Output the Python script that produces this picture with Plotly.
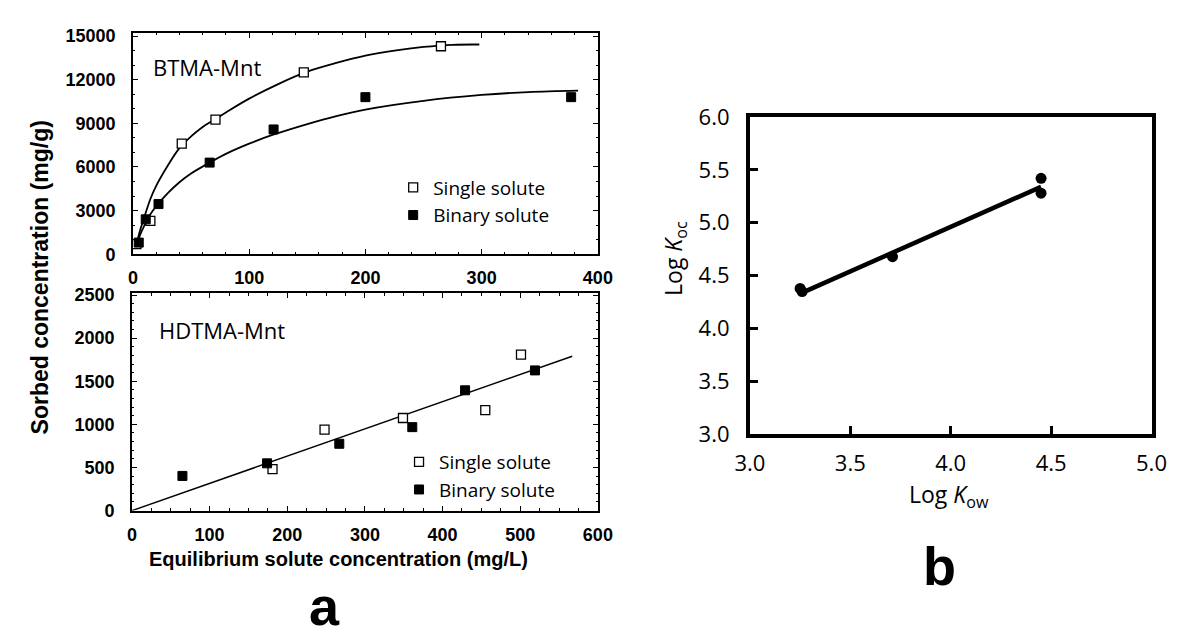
import plotly.graph_objects as go

W, H = 1186, 638

# ---------------- data: panel a (top, BTMA-Mnt) ----------------
btma_single_x = [3, 15, 42, 71, 147, 265]
btma_single_y = [700, 2300, 7600, 9250, 12500, 14300]
btma_binary_x = [5, 11, 22, 66, 121, 200, 377]
btma_binary_y = [800, 2400, 3450, 6300, 8580, 10800, 10800]
btma_single_fit_x = [3, 6, 10, 15, 20, 30, 40, 50, 60, 70, 80, 100, 125, 150, 175, 200, 225, 250, 275, 298]
btma_single_fit_y = [650, 1600, 2600, 3800, 4700, 6100, 7300, 8100, 8750, 9250, 9750, 10700, 11700, 12550,
                     13150, 13650, 14000, 14250, 14400, 14420]
btma_binary_fit_x = [3, 6, 10, 15, 20, 30, 40, 50, 66, 80, 100, 120, 150, 175, 200, 250, 300, 340, 383]
btma_binary_fit_y = [650, 1300, 2000, 2750, 3300, 4200, 4950, 5550, 6300, 6900, 7600, 8200, 8950, 9500,
                     9950, 10550, 10950, 11150, 11250]

# ---------------- data: panel a (bottom, HDTMA-Mnt) ----------------
hdtma_single_x = [181, 248, 349, 455, 501]
hdtma_single_y = [482, 939, 1074, 1165, 1810]
hdtma_binary_x = [65, 174, 267, 361, 429, 519]
hdtma_binary_y = [402, 548, 775, 968, 1395, 1626]
hdtma_fit_x = [0, 567]
hdtma_fit_y = [0, 1790]

# ---------------- data: panel b ----------------
log_kow = [3.25, 3.26, 3.71, 4.45, 4.45]
log_koc = [4.38, 4.35, 4.68, 5.42, 5.28]
fit_kow = [3.25, 4.45]
fit_koc = [4.33, 5.34]

top_xticks = [0, 100, 200, 300, 400]
top_yticks = [0, 3000, 6000, 9000, 12000, 15000]
bot_xticks = [0, 100, 200, 300, 400, 500, 600]
bot_yticks = [0, 500, 1000, 1500, 2000, 2500]
b_xticks = [3.0, 3.5, 4.0, 4.5, 5.0]
b_yticks = [3.0, 3.5, 4.0, 4.5, 5.0, 5.5, 6.0]


def px(x):
    return x / W


def py(y):
    return 1 - y / H


fig = go.Figure()

line_style = dict(color="black", width=1.8)
open_marker = dict(symbol="square", size=9, color="white", line=dict(color="black", width=1.3))
fill_marker = dict(symbol="square", size=9, color="black", line=dict(color="black", width=1))

# top panel
fig.add_trace(go.Scatter(x=btma_single_fit_x, y=btma_single_fit_y, mode="lines", line=line_style,
                         line_shape="spline", showlegend=False, xaxis="x", yaxis="y"))
fig.add_trace(go.Scatter(x=btma_binary_fit_x, y=btma_binary_fit_y, mode="lines", line=line_style,
                         line_shape="spline", showlegend=False, xaxis="x", yaxis="y"))
fig.add_trace(go.Scatter(x=btma_single_x, y=btma_single_y, mode="markers", marker=open_marker,
                         name="Single solute", xaxis="x", yaxis="y", legend="legend"))
fig.add_trace(go.Scatter(x=btma_binary_x, y=btma_binary_y, mode="markers", marker=fill_marker,
                         name="Binary solute", xaxis="x", yaxis="y", legend="legend"))

# bottom panel
fig.add_trace(go.Scatter(x=hdtma_fit_x, y=hdtma_fit_y, mode="lines", line=dict(color="black", width=1.5),
                         showlegend=False, xaxis="x2", yaxis="y2"))
fig.add_trace(go.Scatter(x=hdtma_single_x, y=hdtma_single_y, mode="markers", marker=open_marker,
                         name="Single solute", xaxis="x2", yaxis="y2", legend="legend2"))
fig.add_trace(go.Scatter(x=hdtma_binary_x, y=hdtma_binary_y, mode="markers", marker=fill_marker,
                         name="Binary solute", xaxis="x2", yaxis="y2", legend="legend2"))

# panel b
fig.add_trace(go.Scatter(x=fit_kow, y=fit_koc, mode="lines", line=dict(color="black", width=4.5),
                         showlegend=False, xaxis="x3", yaxis="y3"))
fig.add_trace(go.Scatter(x=log_kow, y=log_koc, mode="markers",
                         marker=dict(symbol="circle", size=11, color="black"),
                         showlegend=False, xaxis="x3", yaxis="y3"))

bold_tick = dict(family="Liberation Sans, Arial, sans-serif", size=18, color="black", weight="bold")


def left_axis(domain, rng, tickvals, minor_dtick, anchor, standoff):
    return dict(domain=domain, range=rng, tickvals=tickvals, ticktext=[str(v) for v in tickvals],
                ticks="inside", ticklen=5, tickwidth=1.2,
                tickcolor="black", showline=True, linecolor="black", linewidth=1.6, mirror="allticks",
                showgrid=False, zeroline=False, tickfont=bold_tick, anchor=anchor,
                ticklabelstandoff=standoff,
                minor=dict(ticks="inside", ticklen=2.5, dtick=minor_dtick, tickcolor="black", tickwidth=1))


calibri = "Open Sans, Noto Sans, sans-serif"

fig.update_layout(
    width=W, height=H, margin=dict(l=0, r=0, t=0, b=0),
    paper_bgcolor="white", plot_bgcolor="white",
    xaxis=left_axis([px(121), px(598)], [0, 400], top_xticks, 20, "y", 6),
    yaxis=left_axis([py(250), py(18)], [0, 15200], top_yticks, 1000, "x", 12),
    xaxis2=left_axis([px(120), px(598)], [0, 600], bot_xticks, 25, "y2", 7),
    yaxis2=left_axis([py(519), py(291)], [0, 2520], bot_yticks, 100, "x2", 12),
    xaxis3=dict(domain=[px(754), px(1166)], range=[3.0, 5.0], tickvals=b_xticks, ticktext=[f"{v:.1f}" for v in b_xticks],
                ticks="inside", ticklen=8, tickwidth=3, tickcolor="black", showline=True, linecolor="black",
                linewidth=4, mirror=True, showgrid=False, zeroline=False, anchor="y3",
                tickfont=dict(family=calibri, size=22, color="black"), ticklabelstandoff=6),
    yaxis3=dict(domain=[py(439), py(106)], range=[3.0, 6.0], tickvals=b_yticks, ticktext=[f"{v:.1f}" for v in b_yticks],
                ticks="inside", ticklen=8, tickwidth=3, tickcolor="black", showline=True, linecolor="black",
                linewidth=4, mirror=True, showgrid=False, zeroline=False, anchor="x3",
                tickfont=dict(family=calibri, size=22, color="black"), ticklabelstandoff=12),
    legend=dict(x=px(388), y=py(160), xanchor="left", yanchor="top", bgcolor="rgba(0,0,0,0)",
                font=dict(family=calibri, size=19, color="black"), itemwidth=30),
    legend2=dict(x=px(394), y=py(448), xanchor="left", yanchor="top", bgcolor="rgba(0,0,0,0)",
                 font=dict(family=calibri, size=19, color="black"), itemwidth=30),
)

annotations = [
    dict(text="BTMA-Mnt", x=px(140), y=py(53), xanchor="left", yanchor="middle",
         font=dict(family=calibri, size=22, color="black")),
    dict(text="HDTMA-Mnt", x=px(146), y=py(330), xanchor="left", yanchor="middle",
         font=dict(family=calibri, size=22, color="black")),
    dict(text="<b>Sorbed concentration (mg/g)</b>", x=px(26), y=py(274), xanchor="center", yanchor="middle",
         textangle=-90, font=dict(family="Liberation Sans, Arial, sans-serif", size=23, color="black")),
    dict(text="<b>Equilibrium solute concentration (mg/L)</b>", x=px(332), y=py(570), xanchor="center",
         yanchor="middle", font=dict(family="Liberation Sans, Arial, sans-serif", size=20, color="black")),
    dict(text="Log <i>K</i><sub>ow</sub>", x=px(958), y=py(503), xanchor="center", yanchor="middle",
         font=dict(family=calibri, size=23, color="black")),
    dict(text="Log <i>K</i><sub>oc</sub>", x=px(676), y=py(254), xanchor="center", yanchor="middle",
         textangle=-90, font=dict(family=calibri, size=23, color="black")),
    dict(text="<b>a</b>", x=px(318), y=py(619), xanchor="center", yanchor="middle",
         font=dict(family="Liberation Sans, Arial, sans-serif", size=54, color="black")),
    dict(text="<b>b</b>", x=px(948), y=py(577), xanchor="center", yanchor="middle",
         font=dict(family="Liberation Sans, Arial, sans-serif", size=54, color="black")),
]
for a in annotations:
    a.update(xref="paper", yref="paper", showarrow=False)
fig.update_layout(annotations=annotations)

fig.write_html("out.html")
